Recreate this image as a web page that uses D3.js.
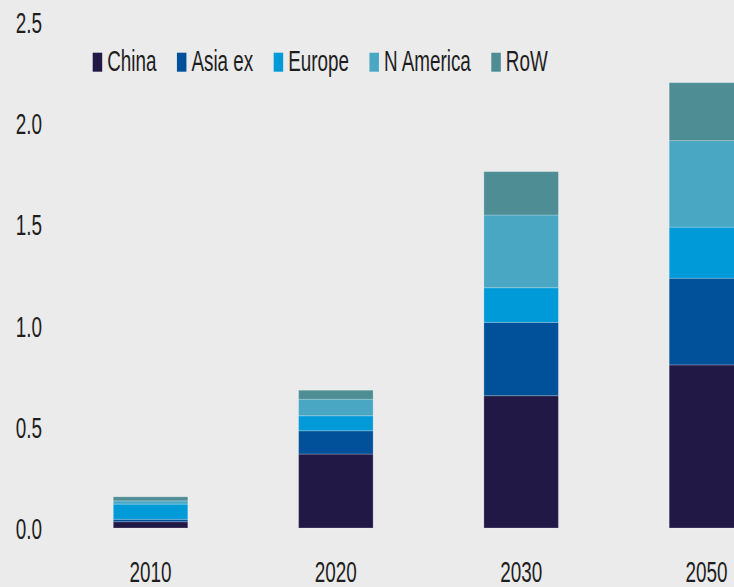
<!DOCTYPE html>
<html>
<head>
<meta charset="utf-8">
<script src="https://cdn.jsdelivr.net/npm/d3@7"></script>
<style>
  html, body { margin: 0; padding: 0; background: #ebebeb; }
  svg { display: block; }
  text { font-family: "Liberation Sans", Arial, sans-serif; fill: #1e1e1e; }
</style>
</head>
<body>
<svg id="chart" width="734" height="587"></svg>
<script>
// Years on the x axis
const years = ["2010", "2020", "2030", "2050"];
// Regions, stacked bottom to top
const regions = ["China", "Asia ex", "Europe", "N America", "RoW"];
// Values per region, one per year
const china    = [0.031, 0.365, 0.653, 0.805];
const asiaEx   = [0.012, 0.115, 0.362, 0.428];
const europe   = [0.075, 0.074, 0.171, 0.252];
const nAmerica = [0.016, 0.082, 0.359, 0.427];
const row      = [0.020, 0.044, 0.214, 0.286];
// Y axis ticks
const yTicks = [0, 0.5, 1.0, 1.5, 2.0, 2.5];
const colors = ["#211846", "#005199", "#009ad9", "#4aa7c4", "#4e8d94"];

const seriesValues = [china, asiaEx, europe, nAmerica, row];
const table = years.map((y, i) => {
  const d = { year: y };
  regions.forEach((r, k) => { d[r] = seriesValues[k][i]; });
  return d;
});

const svg = d3.select("#chart");
const W = 734, H = 587;
const squeeze = 0.63; // condensed lettering

const x = d3.scaleBand()
  .domain(years)
  .range([57.9, 799.1])
  .paddingInner(0.598)
  .paddingOuter(0.299);

const y = d3.scaleLinear()
  .domain([0, 2.5])
  .range([528, 21.5]);

const color = d3.scaleOrdinal().domain(regions).range(colors);

const stacked = d3.stack().keys(regions)(table);

// Bars
svg.append("g")
  .selectAll("g")
  .data(stacked)
  .join("g")
  .attr("fill", d => color(d.key))
  .selectAll("rect")
  .data(d => d)
  .join("rect")
  .attr("x", d => x(d.data.year))
  .attr("width", x.bandwidth())
  .attr("y", d => y(d[1]))
  .attr("height", d => y(d[0]) - y(d[1]))
  .attr("stroke", "rgba(255,255,255,0.22)")
  .attr("stroke-width", 1);

// Y axis labels (no axis line or tick marks)
const yAxis = d3.axisLeft(y)
  .tickValues(yTicks)
  .tickFormat(d3.format(".1f"))
  .tickSize(0)
  .tickPadding(0);

const gy = svg.append("g")
  .attr("transform", "translate(42,0)")
  .call(yAxis);
gy.select(".domain").remove();
gy.selectAll(".tick text")
  .attr("x", 0)
  .attr("dy", "0.36em")
  .attr("font-size", 30)
  .attr("font-family", "'Liberation Sans', Arial, sans-serif")
  .attr("fill", "#1e1e1e")
  .attr("transform", `scale(${squeeze},1)`);

// X axis labels
const xAxis = d3.axisBottom(x).tickSize(0).tickPadding(0);
const gx = svg.append("g")
  .attr("transform", "translate(0,582)")
  .call(xAxis);
gx.select(".domain").remove();
gx.selectAll(".tick text")
  .attr("y", 0)
  .attr("dy", 0)
  .attr("font-size", 30)
  .attr("font-family", "'Liberation Sans', Arial, sans-serif")
  .attr("fill", "#1e1e1e")
  .attr("transform", `scale(${squeeze},1)`);

// Legend
const legend = svg.append("g").attr("transform", "translate(92.7,0)");
let cursor = 0;
regions.forEach((r) => {
  const item = legend.append("g").attr("transform", `translate(${cursor},0)`);
  item.append("rect")
    .attr("x", 0).attr("y", 52.7)
    .attr("width", 9.5).attr("height", 19)
    .attr("fill", color(r));
  const t = item.append("text")
    .attr("font-size", 29)
    .attr("transform", `translate(14.5,71) scale(0.65,1)`)
    .text(r);
  const w = t.node().getComputedTextLength() * 0.65;
  cursor += 14.5 + w + 20.5;
});
</script>
</body>
</html>
